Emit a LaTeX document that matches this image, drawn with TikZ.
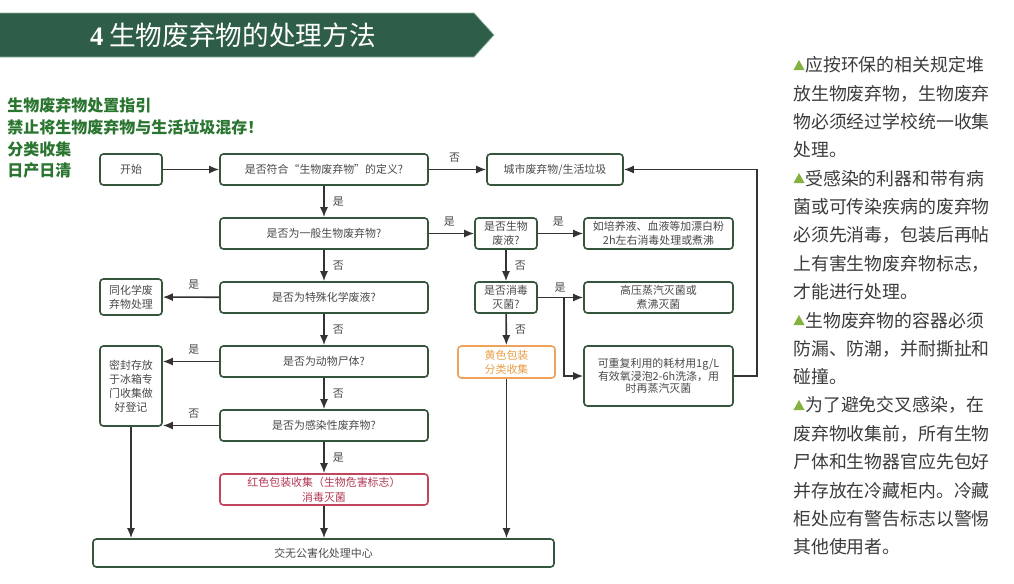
\documentclass[tikz,border=0pt]{standalone}
\usepackage{fontspec}
\setmainfont{Noto Sans CJK SC}
\newfontfamily\serifnum{Liberation Serif}
\usetikzlibrary{arrows.meta}
\definecolor{hdr}{HTML}{2F5E48}
\definecolor{hdrline}{HTML}{8FB5A2}
\definecolor{boxc}{HTML}{35553D}
\definecolor{txt}{HTML}{4A4A4A}
\definecolor{arr}{HTML}{333333}
\definecolor{gtitle}{HTML}{2A7530}
\definecolor{orangec}{HTML}{EFA25C}
\definecolor{orangetxt}{HTML}{E8A04A}
\definecolor{redc}{HTML}{C0465E}
\definecolor{redtxt}{HTML}{B23A55}
\definecolor{bullet}{HTML}{84B23E}
\definecolor{rtxt}{HTML}{3C3C3C}
\begin{document}
\begin{tikzpicture}[x=0.75pt,y=-0.75pt,
  sz/.style 2 args={minimum width=#1*0.75pt, minimum height=#2*0.75pt},
  box/.style={draw=boxc, line width=1.2pt, rounded corners=2.5pt, fill=white, text=txt,
    font=\fontsize{8.2}{10.5}\selectfont, align=center, inner sep=0pt},
  conn/.style={draw=arr, line width=1.2pt, -{Latex[length=7.5pt,width=6pt]}},
  lbl/.style={text=txt, font=\fontsize{8.2}{10}\selectfont, inner sep=0pt},
  rline/.style={anchor=west, text=rtxt, font=\fontsize{13.4}{16}\selectfont, inner sep=0pt},
  gline/.style={anchor=west, text=gtitle, font=\fontsize{12}{14}\selectfont\bfseries, inner sep=0pt},
  tri/.style={fill=bullet}
]
\useasboundingbox (0,0) rectangle (1014,583);
\fill[white] (0,0) rectangle (1014,583);

% header banner
\draw[fill=hdr, draw=hdrline, line width=0.5pt] (0,13) -- (474,13) -- (494,35) -- (474,57) -- (0,57);
\node[text=white, font=\fontsize{20}{24}\selectfont, inner sep=0pt] (title) at (233,35)
  {{\serifnum\bfseries 4} 生物废弃物的处理方法};

% left green heading
\node[gline] (g1) at (7,105) {生物废弃物处置指引};
\node[gline] (g2) at (7,127) {禁止将生物废弃物与生活垃圾混存！};
\node[gline] (g3) at (7,149) {分类收集};
\node[gline] (g4) at (7,170) {日产日清};

% flowchart nodes
\node[box, sz={62}{31}] (start) at (131,169.5) {开始};
\node[box, sz={208}{31}] (def) at (324,169.5) {是否符合“生物废弃物”的定义?};
\node[box, sz={136}{31}] (city) at (555,169.5) {城市废弃物/生活垃圾};
\node[box, sz={208}{31}] (general) at (324,233.5) {是否为一般生物废弃物?};
\node[box, sz={62}{31}] (liquid) at (506,233.5) {是否生物\\废液?};
\node[box, sz={149}{31}] (bleach) at (658.5,233.5) {如培养液、血液等加漂白粉\\2h左右消毒处理或煮沸};
\node[box, sz={208}{31}] (chem) at (324,297.5) {是否为特殊化学废液?};
\node[box, sz={62}{36}] (samechem) at (131,297) {同化学废\\弃物处理};
\node[box, sz={62}{31}] (sterq) at (506,297.5) {是否消毒\\灭菌?};
\node[box, sz={149}{31}] (autoclave) at (658.5,297.5) {高压蒸汽灭菌或\\煮沸灭菌};
\node[box, sz={208}{31}] (animal) at (324,361.5) {是否为动物尸体?};
\node[box, sz={62}{80}, font=\fontsize{8.2}{10.5}\selectfont] (fridge) at (131,386) {密封存放\\于冰箱专\\门收集做\\好登记};
\node[box, sz={97}{32}, draw=orangec, text=orangetxt] (yellow) at (506.5,362) {黄色包装\\分类收集};
\node[box, sz={149}{60}, font=\fontsize{8.2}{9.4}\selectfont] (reuse) at (658.5,376) {可重复利用的耗材用1g/L\\有效氧浸泡2-6h洗涤，用\\时再蒸汽灭菌};
\node[box, sz={208}{31}] (infect) at (324,425.5) {是否为感染性废弃物?};
\node[box, sz={208}{31}, draw=redc, text=redtxt, font=\fontsize{8.2}{11}\selectfont] (red) at (324,489.5) {红色包装收集（生物危害标志）\\消毒灭菌};
\node[box, sz={461}{28}] (center) at (323.5,553) {交无公害化处理中心};

% connectors
\draw[conn] (start) -- (def);
\draw[conn] (def) -- node[lbl, above=5pt, pos=0.45] (l1) {否} (city);
\draw[conn] (def) -- node[lbl, right=6pt] (l2) {是} (general);
\draw[conn] (general) -- node[lbl, above=5pt, pos=0.45] (l3) {是} (liquid);
\draw[conn] (liquid) -- node[lbl, above=5pt, pos=0.45] (l4) {是} (bleach);
\draw[conn] (liquid) -- node[lbl, right=6pt] (l5) {否} (sterq);
\draw[conn] (general) -- node[lbl, right=6pt] (l6) {否} (chem);
\draw[conn] (chem) -- node[lbl, above=5pt, pos=0.45] (l7) {是} (samechem);
\draw[conn] (chem) -- node[lbl, right=6pt] (l8) {否} (animal);
\draw[conn] (animal.west) -- node[lbl, above=5pt, pos=0.45] (l9) {是} (animal.west -| fridge.east);
\draw[conn] (animal) -- node[lbl, right=6pt] (l10) {否} (infect);
\draw[conn] (infect.west) -- node[lbl, above=5pt, pos=0.45] (l11) {否} (infect.west -| fridge.east);
\draw[conn] (infect) -- node[lbl, right=6pt] (l12) {是} (red);
\draw[conn] (red.south) -- (red.south |- center.north);
\draw[conn] (fridge.south) -- (fridge.south |- center.north);
\draw[conn] (yellow.south) -- (yellow.south |- center.north);
\draw[conn] (sterq) -- node[lbl, right=6pt] (l13) {否} (yellow);
\coordinate (split) at (564,297.5);
\draw[conn] (sterq) -- (autoclave);
\node[lbl] (l14) at (560,288) {是};
\draw[conn] (split) |- (reuse.west);
\coordinate (loopc) at (757,376);
\draw[conn] (reuse.east) -- (reuse.east -| loopc) |- (city.east);

% right-hand notes
\foreach \yy/\nm in {65/b1,178/b2,320/b3,405/b4}{
  \fill[tri] (793.5,\yy+5) -- (799,\yy-5) -- (804.5,\yy+5) -- cycle;
}
\node[rline] (r1) at (805,65) {应按环保的相关规定堆};
\node[rline] (r2) at (793,93.4) {放生物废弃物，生物废弃};
\node[rline] (r3) at (793,121.7) {物必须经过学校统一收集};
\node[rline] (r4) at (793,150.1) {处理。};
\node[rline] (r5) at (805,178.4) {受感染的利器和带有病};
\node[rline] (r6) at (793,206.8) {菌或可传染疾病的废弃物};
\node[rline] (r7) at (793,235.1) {必须先消毒，包装后再帖};
\node[rline] (r8) at (793,263.5) {上有害生物废弃物标志，};
\node[rline] (r9) at (793,291.8) {才能进行处理。};
\node[rline] (r10) at (805,320.2) {生物废弃物的容器必须};
\node[rline] (r11) at (793,348.5) {防漏、防潮，并耐撕扯和};
\node[rline] (r12) at (793,376.9) {碰撞。};
\node[rline] (r13) at (805,405.2) {为了避免交叉感染，在};
\node[rline] (r14) at (793,433.6) {废弃物收集前，所有生物};
\node[rline] (r15) at (793,461.9) {尸体和生物器官应先包好};
\node[rline] (r16) at (793,490.3) {并存放在冷藏柜内。冷藏};
\node[rline] (r17) at (793,518.6) {柜处应有警告标志以警惕};
\node[rline] (r18) at (793,547) {其他使用者。};
\end{tikzpicture}
\end{document}
